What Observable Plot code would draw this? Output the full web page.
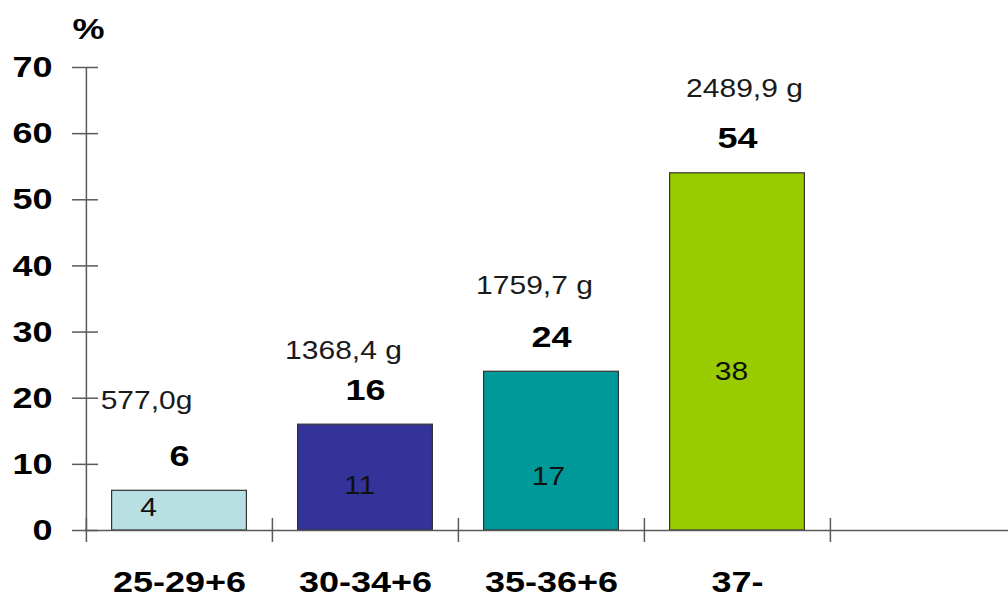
<!DOCTYPE html>
<html>
<head>
<meta charset="utf-8">
<script src="https://cdn.jsdelivr.net/npm/d3@7"></script>
<script src="https://cdn.jsdelivr.net/npm/@observablehq/plot@0.6"></script>
<style>
  html, body { margin: 0; padding: 0; background: #fff; }
</style>
</head>
<body>
<div id="chart"></div>
<script>
// Gestational age groups and their share (%)
const categories = ["25-29+6", "30-34+6", "35-36+6", "37-"];
const percentValues = [6, 16, 24, 54];
const innerValues = [4, 11, 17, 38];
const weightLabels = ["577,0g", "1368,4 g", "1759,7 g", "2489,9 g"];
const yTicks = [0, 10, 20, 30, 40, 50, 60, 70];
const barColors = ["#b8e0e3", "#333399", "#009999", "#99cc00"];

// an empty fifth group keeps the baseline running on to the right edge
const xDomain = [...categories, ""];

const rows = categories.map((c, i) => ({
  category: c,
  percent: percentValues[i],
  inner: innerValues[i],
  weight: weightLabels[i]
}));

// pixel nudges for the free-standing annotations
const weightNudge = [[-33, -90], [-22, -74], [-17, -86], [7, -84]];
const innerNudge = [[-31, -3], [-6, 8], [-3, 26], [-6, 20]];

const W = 1008, H = 599;
const mLeft = 85, mTop = 67, mBottom = 69;
const xEnd = 1016;
const step = (xEnd - mLeft) / xDomain.length;
const FONT = "'Liberation Sans', Arial, Helvetica, sans-serif";
const AXIS = "#5a5a5a";
const STRETCH = 1.2;

const plot = Plot.plot({
  width: W,
  height: H,
  marginLeft: mLeft,
  marginRight: 0,
  marginTop: mTop,
  marginBottom: mBottom,
  style: { fontFamily: FONT, background: "#fff", color: "#000", overflow: "visible" },
  x: { type: "band", domain: xDomain, range: [mLeft, xEnd], padding: 0, axis: null },
  y: { domain: [yTicks[0], yTicks[yTicks.length - 1]], axis: null },
  color: { domain: categories, range: barColors },
  marks: [
    Plot.barY(rows, {
      x: "category", y: "percent", fill: "category",
      stroke: "#333", strokeWidth: 1.2,
      insetLeft: 25.6, insetRight: 25.6
    }),
    // vertical axis line
    Plot.ruleX([categories[0]], {
      x: d => d, dx: -step / 2,
      y1: yTicks[0], y2: yTicks[yTicks.length - 1],
      stroke: AXIS, strokeWidth: 1.5
    }),
    // baseline
    Plot.ruleY([0], { stroke: AXIS, strokeWidth: 1.5 }),
    // y ticks crossing the axis line
    Plot.axisY({ ticks: yTicks, tickSize: 26, dx: 13, stroke: AXIS, strokeWidth: 1.5, fill: "none", tickFormat: () => "" }),
    // x ticks at the group boundaries
    Plot.axisX({ tickSize: 24, dy: -12, dx: -step / 2, stroke: AXIS, strokeWidth: 1.5, fill: "none", tickFormat: () => "" }),
    // y tick labels
    Plot.text(yTicks, {
      y: d => d, text: d => String(d), frameAnchor: "left", dx: -33,
      textAnchor: "end", lineAnchor: "middle",
      fontSize: 30, fontWeight: "bold", fill: "#000"
    }),
    // unit
    Plot.text(["%"], {
      text: d => d, frameAnchor: "top-left", dx: 3, dy: -38,
      textAnchor: "middle", lineAnchor: "middle",
      fontSize: 30, fontWeight: "bold", fill: "#000"
    }),
    // group labels
    Plot.text(categories, {
      x: d => d, text: d => d, frameAnchor: "bottom", dy: 52,
      textAnchor: "middle", lineAnchor: "middle",
      fontSize: 30, fontWeight: "bold", fill: "#000"
    }),
    // percentages above the bars
    Plot.text(rows, {
      x: "category", y: "percent", text: d => String(d.percent), dy: -34.5,
      fontSize: 30, fontWeight: "bold", fill: "#000"
    }),
    // mean birth weights
    ...rows.map((r, i) => Plot.text([r], {
      x: "category", y: "percent", text: "weight",
      dx: weightNudge[i][0], dy: weightNudge[i][1],
      fontSize: 25, fill: "#1a1a1a"
    })),
    // values inside the bars
    ...rows.map((r, i) => Plot.text([r], {
      x: "category", y: d => d.percent / 2, text: d => String(d.inner),
      dx: innerNudge[i][0], dy: innerNudge[i][1],
      fontSize: 25, fill: "#111"
    }))
  ]
});

document.getElementById("chart").appendChild(plot);

// widen the lettering horizontally, keeping each label's anchor in place
plot.querySelectorAll("text").forEach(t => {
  if (!t.textContent) return;
  const len = t.getComputedTextLength();
  if (len > 0) {
    t.setAttribute("textLength", (len * STRETCH).toFixed(2));
    t.setAttribute("lengthAdjust", "spacingAndGlyphs");
  }
});
</script>
</body>
</html>
